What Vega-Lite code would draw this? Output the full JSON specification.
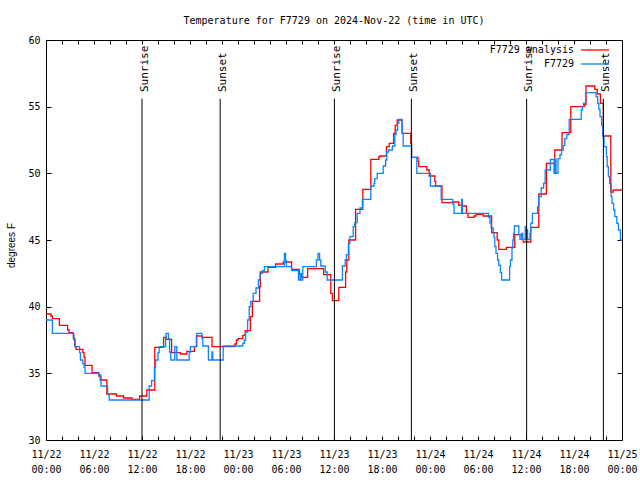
{
  "$schema": "https://vega.github.io/schema/vega-lite/v6.json",
  "width": 576,
  "height": 400,
  "autosize": {"type": "none"},
  "padding": {"left": 46, "top": 40, "right": 18, "bottom": 40},
  "background": "white",
  "config": {
    "view": {"stroke": "black", "strokeWidth": 1},
    "font": "DejaVu Sans Mono",
    "axis": {"tickColor": "black", "labelColor": "black", "tickWidth": 1, "domain": false, "grid": false}
  },
  "title": {
    "text": "Temperature for F7729 on 2024-Nov-22 (time in UTC)",
    "font": "DejaVu Sans Mono",
    "fontSize": 10,
    "fontWeight": "normal",
    "color": "black",
    "anchor": "middle",
    "frame": "group",
    "baseline": "alphabetic",
    "offset": 1
  },
  "datasets": {
    "obs": [
      {"series": "F7729 analysis", "hour": 0, "temp": 39.45},
      {"series": "F7729 analysis", "hour": 0.62, "temp": 39.3},
      {"series": "F7729 analysis", "hour": 0.8, "temp": 39.1},
      {"series": "F7729 analysis", "hour": 1.67, "temp": 38.6},
      {"series": "F7729 analysis", "hour": 2.7, "temp": 38.25},
      {"series": "F7729 analysis", "hour": 2.88, "temp": 38.05},
      {"series": "F7729 analysis", "hour": 3.42, "temp": 37.6},
      {"series": "F7729 analysis", "hour": 3.6, "temp": 37.0},
      {"series": "F7729 analysis", "hour": 3.75, "temp": 36.8},
      {"series": "F7729 analysis", "hour": 4.6, "temp": 36.55},
      {"series": "F7729 analysis", "hour": 4.75, "temp": 36.2},
      {"series": "F7729 analysis", "hour": 4.88, "temp": 35.6},
      {"series": "F7729 analysis", "hour": 5.75, "temp": 35.05},
      {"series": "F7729 analysis", "hour": 6.6, "temp": 34.8},
      {"series": "F7729 analysis", "hour": 6.88, "temp": 34.5},
      {"series": "F7729 analysis", "hour": 7.6, "temp": 33.45},
      {"series": "F7729 analysis", "hour": 8.8, "temp": 33.3},
      {"series": "F7729 analysis", "hour": 9.7, "temp": 33.15},
      {"series": "F7729 analysis", "hour": 10.75, "temp": 33.05},
      {"series": "F7729 analysis", "hour": 11.7, "temp": 33.3},
      {"series": "F7729 analysis", "hour": 12.6, "temp": 33.75},
      {"series": "F7729 analysis", "hour": 13.6, "temp": 36.95},
      {"series": "F7729 analysis", "hour": 14.7, "temp": 37.7},
      {"series": "F7729 analysis", "hour": 15.0, "temp": 37.55},
      {"series": "F7729 analysis", "hour": 15.7, "temp": 36.55},
      {"series": "F7729 analysis", "hour": 16.8, "temp": 36.45},
      {"series": "F7729 analysis", "hour": 17.6, "temp": 36.65},
      {"series": "F7729 analysis", "hour": 18.55, "temp": 37.0},
      {"series": "F7729 analysis", "hour": 18.8, "temp": 37.8},
      {"series": "F7729 analysis", "hour": 19.5, "temp": 37.7},
      {"series": "F7729 analysis", "hour": 20.75, "temp": 37.0},
      {"series": "F7729 analysis", "hour": 23.6, "temp": 37.2},
      {"series": "F7729 analysis", "hour": 23.8, "temp": 37.5},
      {"series": "F7729 analysis", "hour": 24.0, "temp": 37.6},
      {"series": "F7729 analysis", "hour": 24.6, "temp": 37.85},
      {"series": "F7729 analysis", "hour": 24.9, "temp": 38.2},
      {"series": "F7729 analysis", "hour": 25.55, "temp": 39.25},
      {"series": "F7729 analysis", "hour": 25.8, "temp": 40.4},
      {"series": "F7729 analysis", "hour": 26.7, "temp": 41.5},
      {"series": "F7729 analysis", "hour": 26.8, "temp": 42.6},
      {"series": "F7729 analysis", "hour": 27.75, "temp": 42.95},
      {"series": "F7729 analysis", "hour": 28.7, "temp": 43.2},
      {"series": "F7729 analysis", "hour": 29.65, "temp": 43.35},
      {"series": "F7729 analysis", "hour": 30.7, "temp": 42.8},
      {"series": "F7729 analysis", "hour": 31.65, "temp": 42.45},
      {"series": "F7729 analysis", "hour": 31.95, "temp": 42.2},
      {"series": "F7729 analysis", "hour": 32.7, "temp": 42.85},
      {"series": "F7729 analysis", "hour": 34.7, "temp": 42.4},
      {"series": "F7729 analysis", "hour": 35.6, "temp": 41.0},
      {"series": "F7729 analysis", "hour": 35.8, "temp": 40.45},
      {"series": "F7729 analysis", "hour": 36.6, "temp": 41.45},
      {"series": "F7729 analysis", "hour": 37.45, "temp": 42.6},
      {"series": "F7729 analysis", "hour": 37.6, "temp": 43.5},
      {"series": "F7729 analysis", "hour": 37.85, "temp": 45.0},
      {"series": "F7729 analysis", "hour": 38.7, "temp": 47.3},
      {"series": "F7729 analysis", "hour": 39.6, "temp": 48.8},
      {"series": "F7729 analysis", "hour": 40.6, "temp": 51.05},
      {"series": "F7729 analysis", "hour": 41.6, "temp": 51.25},
      {"series": "F7729 analysis", "hour": 41.75, "temp": 51.3},
      {"series": "F7729 analysis", "hour": 42.55, "temp": 52.0},
      {"series": "F7729 analysis", "hour": 42.9, "temp": 52.25},
      {"series": "F7729 analysis", "hour": 43.45, "temp": 53.0},
      {"series": "F7729 analysis", "hour": 43.65, "temp": 53.6},
      {"series": "F7729 analysis", "hour": 43.9, "temp": 54.0},
      {"series": "F7729 analysis", "hour": 44.5, "temp": 53.0},
      {"series": "F7729 analysis", "hour": 45.6, "temp": 52.25},
      {"series": "F7729 analysis", "hour": 45.7, "temp": 51.2},
      {"series": "F7729 analysis", "hour": 46.5, "temp": 50.9},
      {"series": "F7729 analysis", "hour": 46.6, "temp": 50.5},
      {"series": "F7729 analysis", "hour": 47.6, "temp": 50.25},
      {"series": "F7729 analysis", "hour": 47.9, "temp": 49.8},
      {"series": "F7729 analysis", "hour": 48.6, "temp": 49.4},
      {"series": "F7729 analysis", "hour": 48.7, "temp": 49.05},
      {"series": "F7729 analysis", "hour": 49.5, "temp": 47.8},
      {"series": "F7729 analysis", "hour": 50.8, "temp": 47.85},
      {"series": "F7729 analysis", "hour": 51.6, "temp": 47.6},
      {"series": "F7729 analysis", "hour": 52.0, "temp": 47.55},
      {"series": "F7729 analysis", "hour": 52.55, "temp": 47.0},
      {"series": "F7729 analysis", "hour": 52.75, "temp": 46.7},
      {"series": "F7729 analysis", "hour": 53.5, "temp": 46.8},
      {"series": "F7729 analysis", "hour": 53.75, "temp": 46.92},
      {"series": "F7729 analysis", "hour": 54.65, "temp": 46.8},
      {"series": "F7729 analysis", "hour": 55.7, "temp": 45.55},
      {"series": "F7729 analysis", "hour": 56.4, "temp": 45.0},
      {"series": "F7729 analysis", "hour": 56.6, "temp": 44.3},
      {"series": "F7729 analysis", "hour": 57.55, "temp": 44.45},
      {"series": "F7729 analysis", "hour": 58.6, "temp": 45.4},
      {"series": "F7729 analysis", "hour": 59.45, "temp": 45.05},
      {"series": "F7729 analysis", "hour": 59.65, "temp": 44.85},
      {"series": "F7729 analysis", "hour": 60.6, "temp": 45.95},
      {"series": "F7729 analysis", "hour": 61.6, "temp": 48.45},
      {"series": "F7729 analysis", "hour": 62.55, "temp": 50.75},
      {"series": "F7729 analysis", "hour": 63.6, "temp": 51.75},
      {"series": "F7729 analysis", "hour": 64.5, "temp": 53.05},
      {"series": "F7729 analysis", "hour": 65.6, "temp": 55.0},
      {"series": "F7729 analysis", "hour": 67.3, "temp": 55.15},
      {"series": "F7729 analysis", "hour": 67.5, "temp": 56.55},
      {"series": "F7729 analysis", "hour": 68.6, "temp": 56.3},
      {"series": "F7729 analysis", "hour": 68.9, "temp": 55.95},
      {"series": "F7729 analysis", "hour": 69.3, "temp": 55.25},
      {"series": "F7729 analysis", "hour": 69.67, "temp": 52.8},
      {"series": "F7729 analysis", "hour": 70.6, "temp": 48.6},
      {"series": "F7729 analysis", "hour": 70.9, "temp": 48.75},
      {"series": "F7729 analysis", "hour": 72, "temp": 48.75},
      {"series": "F7729", "hour": 0, "temp": 39.0},
      {"series": "F7729", "hour": 0.8, "temp": 38.0},
      {"series": "F7729", "hour": 3.42, "temp": 37.9},
      {"series": "F7729", "hour": 3.5, "temp": 37.5},
      {"series": "F7729", "hour": 3.65, "temp": 37.0},
      {"series": "F7729", "hour": 4.2, "temp": 36.55},
      {"series": "F7729", "hour": 4.3, "temp": 36.0},
      {"series": "F7729", "hour": 4.6, "temp": 35.75},
      {"series": "F7729", "hour": 4.75, "temp": 35.45},
      {"series": "F7729", "hour": 4.88, "temp": 35.0},
      {"series": "F7729", "hour": 6.6, "temp": 34.9},
      {"series": "F7729", "hour": 6.75, "temp": 34.5},
      {"series": "F7729", "hour": 6.88, "temp": 34.05},
      {"series": "F7729", "hour": 7.7, "temp": 33.4},
      {"series": "F7729", "hour": 7.9, "temp": 33.0},
      {"series": "F7729", "hour": 12.9, "temp": 34.05},
      {"series": "F7729", "hour": 13.2, "temp": 34.45},
      {"series": "F7729", "hour": 13.55, "temp": 35.45},
      {"series": "F7729", "hour": 13.7, "temp": 36.0},
      {"series": "F7729", "hour": 14.0, "temp": 36.55},
      {"series": "F7729", "hour": 14.15, "temp": 37.0},
      {"series": "F7729", "hour": 14.95, "temp": 37.6},
      {"series": "F7729", "hour": 15.0, "temp": 38.0},
      {"series": "F7729", "hour": 15.3, "temp": 37.6},
      {"series": "F7729", "hour": 15.45, "temp": 36.6},
      {"series": "F7729", "hour": 15.6, "temp": 36.0},
      {"series": "F7729", "hour": 16.1, "temp": 37.0},
      {"series": "F7729", "hour": 16.35, "temp": 36.0},
      {"series": "F7729", "hour": 17.9, "temp": 36.6},
      {"series": "F7729", "hour": 18.05, "temp": 37.0},
      {"series": "F7729", "hour": 18.85, "temp": 38.0},
      {"series": "F7729", "hour": 19.5, "temp": 37.6},
      {"series": "F7729", "hour": 19.6, "temp": 37.05},
      {"series": "F7729", "hour": 20.3, "temp": 36.0},
      {"series": "F7729", "hour": 20.75, "temp": 36.6},
      {"series": "F7729", "hour": 20.85, "temp": 36.0},
      {"series": "F7729", "hour": 22.15, "temp": 37.05},
      {"series": "F7729", "hour": 24.6, "temp": 37.25},
      {"series": "F7729", "hour": 24.8, "temp": 37.5},
      {"series": "F7729", "hour": 24.95, "temp": 38.1},
      {"series": "F7729", "hour": 25.2, "temp": 39.0},
      {"series": "F7729", "hour": 25.4, "temp": 40.0},
      {"series": "F7729", "hour": 25.6, "temp": 40.4},
      {"series": "F7729", "hour": 25.9, "temp": 41.0},
      {"series": "F7729", "hour": 26.25, "temp": 41.4},
      {"series": "F7729", "hour": 26.55, "temp": 42.0},
      {"series": "F7729", "hour": 26.75, "temp": 42.5},
      {"series": "F7729", "hour": 27.05, "temp": 42.7},
      {"series": "F7729", "hour": 27.3, "temp": 43.0},
      {"series": "F7729", "hour": 29.8, "temp": 44.0},
      {"series": "F7729", "hour": 29.95, "temp": 43.45},
      {"series": "F7729", "hour": 30.05, "temp": 43.0},
      {"series": "F7729", "hour": 30.7, "temp": 42.7},
      {"series": "F7729", "hour": 31.55, "temp": 42.0},
      {"series": "F7729", "hour": 31.75, "temp": 42.5},
      {"series": "F7729", "hour": 31.85, "temp": 42.0},
      {"series": "F7729", "hour": 32.1, "temp": 43.0},
      {"series": "F7729", "hour": 33.8, "temp": 43.5},
      {"series": "F7729", "hour": 34.0, "temp": 44.0},
      {"series": "F7729", "hour": 34.2, "temp": 43.5},
      {"series": "F7729", "hour": 34.35, "temp": 43.05},
      {"series": "F7729", "hour": 34.9, "temp": 42.6},
      {"series": "F7729", "hour": 35.15, "temp": 42.0},
      {"series": "F7729", "hour": 37.05, "temp": 43.05},
      {"series": "F7729", "hour": 37.4, "temp": 43.5},
      {"series": "F7729", "hour": 37.55, "temp": 43.9},
      {"series": "F7729", "hour": 37.8, "temp": 44.75},
      {"series": "F7729", "hour": 38.0, "temp": 45.25},
      {"series": "F7729", "hour": 38.4, "temp": 46.0},
      {"series": "F7729", "hour": 38.6, "temp": 46.3},
      {"series": "F7729", "hour": 38.9, "temp": 47.0},
      {"series": "F7729", "hour": 39.25, "temp": 47.4},
      {"series": "F7729", "hour": 39.55, "temp": 48.05},
      {"series": "F7729", "hour": 40.6, "temp": 49.05},
      {"series": "F7729", "hour": 41.0, "temp": 49.25},
      {"series": "F7729", "hour": 41.1, "temp": 49.6},
      {"series": "F7729", "hour": 41.4, "temp": 50.0},
      {"series": "F7729", "hour": 42.15, "temp": 50.55},
      {"series": "F7729", "hour": 42.45, "temp": 51.0},
      {"series": "F7729", "hour": 42.6, "temp": 51.6},
      {"series": "F7729", "hour": 42.8, "temp": 51.75},
      {"series": "F7729", "hour": 43.3, "temp": 52.05},
      {"series": "F7729", "hour": 43.6, "temp": 52.9},
      {"series": "F7729", "hour": 43.75, "temp": 53.25},
      {"series": "F7729", "hour": 43.95, "temp": 53.75},
      {"series": "F7729", "hour": 44.1, "temp": 54.05},
      {"series": "F7729", "hour": 44.5, "temp": 53.6},
      {"series": "F7729", "hour": 44.55, "temp": 53.0},
      {"series": "F7729", "hour": 44.65, "temp": 52.05},
      {"series": "F7729", "hour": 45.7, "temp": 51.2},
      {"series": "F7729", "hour": 46.35, "temp": 50.0},
      {"series": "F7729", "hour": 48.05, "temp": 49.05},
      {"series": "F7729", "hour": 49.4, "temp": 48.05},
      {"series": "F7729", "hour": 50.85, "temp": 47.7},
      {"series": "F7729", "hour": 51.0, "temp": 47.0},
      {"series": "F7729", "hour": 51.95, "temp": 48.05},
      {"series": "F7729", "hour": 52.05, "temp": 47.0},
      {"series": "F7729", "hour": 55.3, "temp": 46.7},
      {"series": "F7729", "hour": 55.5, "temp": 46.25},
      {"series": "F7729", "hour": 55.65, "temp": 45.9},
      {"series": "F7729", "hour": 55.9, "temp": 45.5},
      {"series": "F7729", "hour": 56.0, "temp": 45.2},
      {"series": "F7729", "hour": 56.1, "temp": 44.5},
      {"series": "F7729", "hour": 56.25, "temp": 44.0},
      {"series": "F7729", "hour": 56.45, "temp": 43.5},
      {"series": "F7729", "hour": 56.6, "temp": 43.1},
      {"series": "F7729", "hour": 56.8, "temp": 42.55},
      {"series": "F7729", "hour": 56.95, "temp": 42.0},
      {"series": "F7729", "hour": 57.95, "temp": 43.0},
      {"series": "F7729", "hour": 58.05, "temp": 43.5},
      {"series": "F7729", "hour": 58.25, "temp": 44.4},
      {"series": "F7729", "hour": 58.35, "temp": 45.0},
      {"series": "F7729", "hour": 58.45, "temp": 45.5},
      {"series": "F7729", "hour": 58.55, "temp": 46.05},
      {"series": "F7729", "hour": 59.1, "temp": 45.4},
      {"series": "F7729", "hour": 59.25, "temp": 45.05},
      {"series": "F7729", "hour": 59.45, "temp": 45.5},
      {"series": "F7729", "hour": 59.6, "temp": 45.05},
      {"series": "F7729", "hour": 59.9, "temp": 46.0},
      {"series": "F7729", "hour": 60.0, "temp": 45.0},
      {"series": "F7729", "hour": 60.1, "temp": 45.75},
      {"series": "F7729", "hour": 60.2, "temp": 45.05},
      {"series": "F7729", "hour": 60.5, "temp": 45.5},
      {"series": "F7729", "hour": 60.6, "temp": 46.25},
      {"series": "F7729", "hour": 60.8, "temp": 47.0},
      {"series": "F7729", "hour": 61.45, "temp": 47.5},
      {"series": "F7729", "hour": 61.6, "temp": 48.25},
      {"series": "F7729", "hour": 61.9, "temp": 48.9},
      {"series": "F7729", "hour": 62.2, "temp": 49.25},
      {"series": "F7729", "hour": 62.4, "temp": 50.25},
      {"series": "F7729", "hour": 63.05, "temp": 51.05},
      {"series": "F7729", "hour": 63.5, "temp": 50.0},
      {"series": "F7729", "hour": 63.65, "temp": 51.05},
      {"series": "F7729", "hour": 63.75, "temp": 50.0},
      {"series": "F7729", "hour": 64.0, "temp": 51.1},
      {"series": "F7729", "hour": 64.25, "temp": 51.4},
      {"series": "F7729", "hour": 64.45, "temp": 51.75},
      {"series": "F7729", "hour": 64.65, "temp": 52.1},
      {"series": "F7729", "hour": 64.85, "temp": 52.6},
      {"series": "F7729", "hour": 65.1, "temp": 52.9},
      {"series": "F7729", "hour": 65.4, "temp": 54.05},
      {"series": "F7729", "hour": 66.9, "temp": 54.75},
      {"series": "F7729", "hour": 67.05, "temp": 55.0},
      {"series": "F7729", "hour": 67.2, "temp": 55.25},
      {"series": "F7729", "hour": 67.45, "temp": 56.05},
      {"series": "F7729", "hour": 68.75, "temp": 55.75},
      {"series": "F7729", "hour": 68.95, "temp": 55.25},
      {"series": "F7729", "hour": 69.1, "temp": 54.8},
      {"series": "F7729", "hour": 69.25, "temp": 54.25},
      {"series": "F7729", "hour": 69.45, "temp": 53.6},
      {"series": "F7729", "hour": 69.6, "temp": 52.75},
      {"series": "F7729", "hour": 69.75, "temp": 52.0},
      {"series": "F7729", "hour": 70.05, "temp": 51.25},
      {"series": "F7729", "hour": 70.15, "temp": 50.5},
      {"series": "F7729", "hour": 70.3, "temp": 49.75},
      {"series": "F7729", "hour": 70.45, "temp": 49.25},
      {"series": "F7729", "hour": 70.65, "temp": 48.25},
      {"series": "F7729", "hour": 70.75, "temp": 47.75},
      {"series": "F7729", "hour": 70.95, "temp": 47.25},
      {"series": "F7729", "hour": 71.1, "temp": 46.75},
      {"series": "F7729", "hour": 71.35, "temp": 46.25},
      {"series": "F7729", "hour": 71.55, "temp": 45.75},
      {"series": "F7729", "hour": 71.8, "temp": 45.0},
      {"series": "F7729", "hour": 72, "temp": 45.0}
    ],
    "events": [
      {"hour": 12.0, "label": "Sunrise"},
      {"hour": 21.77, "label": "Sunset"},
      {"hour": 36.05, "label": "Sunrise"},
      {"hour": 45.67, "label": "Sunset"},
      {"hour": 60.08, "label": "Sunrise"},
      {"hour": 69.67, "label": "Sunset"}
    ]
  },
  "layer": [
    {
      "data": {"name": "obs"},
      "mark": {"type": "line", "interpolate": "step-after", "strokeWidth": 1.3},
      "encoding": {
        "x": {
          "field": "hour",
          "type": "quantitative",
          "scale": {"domain": [0, 72], "nice": false, "zero": false},
          "axis": {
            "orient": "bottom",
            "values": [0, 2, 4, 6, 8, 10, 12, 14, 16, 18, 20, 22, 24, 26, 28, 30, 32, 34, 36, 38, 40, 42, 44, 46, 48, 50, 52, 54, 56, 58, 60, 62, 64, 66, 68, 70, 72],
            "tickSize": -4,
            "title": null,
            "labelExpr": "datum.value % 6 == 0 ? ['11/' + (22 + floor(datum.value / 24)), (datum.value % 24 < 10 ? '0' : '') + (datum.value % 24) + ':00'] : ''",
            "labelFont": "DejaVu Sans Mono",
            "labelFontSize": 10,
            "labelPadding": 13,
            "labelLineHeight": 15,
            "labelOverlap": false,
            "labelFlush": false,
            "labelBaseline": "top"
          }
        },
        "y": {
          "field": "temp",
          "type": "quantitative",
          "scale": {"domain": [30, 60], "nice": false, "zero": false},
          "axis": {
            "orient": "left",
            "values": [30, 35, 40, 45, 50, 55, 60],
            "tickSize": -5,
            "title": "degrees F",
            "titleFont": "Liberation Sans",
            "titleFontSize": 10,
            "titleFontWeight": "normal",
            "titleColor": "black",
            "titleAngle": 270,
            "titleX": -35,
            "titleY": 205,
            "titleAlign": "center",
            "titleBaseline": "middle",
            "labelFont": "DejaVu Sans Mono",
            "labelFontSize": 10,
            "labelPadding": 11,
            "labelFlush": false,
            "labelOverlap": false
          }
        },
        "color": {
          "field": "series",
          "type": "nominal",
          "scale": {"domain": ["F7729 analysis", "F7729"], "range": ["#ff0000", "#0a84ff"]},
          "legend": {
            "orient": "none",
            "legendX": 544,
            "legendY": 5,
            "title": null,
            "padding": 0,
            "symbolType": "M-7,0H7",
            "symbolSize": 16,
            "symbolStrokeWidth": 1.3,
            "rowPadding": 4,
            "labelFont": "DejaVu Sans Mono",
            "labelFontSize": 10,
            "labelColor": "black",
            "labelAlign": "right",
            "labelOffset": -26
          }
        }
      }
    },
    {
      "data": {"name": "events"},
      "mark": {"type": "rule", "color": "black", "strokeWidth": 1},
      "encoding": {
        "x": {
          "field": "hour",
          "type": "quantitative",
          "axis": {
            "orient": "top",
            "values": [0, 2, 4, 6, 8, 10, 12, 14, 16, 18, 20, 22, 24, 26, 28, 30, 32, 34, 36, 38, 40, 42, 44, 46, 48, 50, 52, 54, 56, 58, 60, 62, 64, 66, 68, 70, 72],
            "tickSize": -4,
            "labels": false,
            "title": null
          }
        },
        "y": {
          "datum": 30,
          "axis": {
            "orient": "right",
            "values": [30, 35, 40, 45, 50, 55, 60],
            "tickSize": -5,
            "labels": false,
            "title": null
          }
        },
        "y2": {"datum": 55.6}
      }
    },
    {
      "data": {"name": "events"},
      "mark": {"type": "text", "angle": 270, "align": "left", "baseline": "alphabetic", "dy": 5.5, "font": "DejaVu Sans Mono", "fontSize": 11, "color": "black"},
      "encoding": {
        "x": {"field": "hour", "type": "quantitative", "axis": null},
        "y": {"datum": 56.1, "axis": null},
        "text": {"field": "label"}
      }
    }
  ],
  "resolve": {"axis": {"x": "independent", "y": "independent"}}
}
